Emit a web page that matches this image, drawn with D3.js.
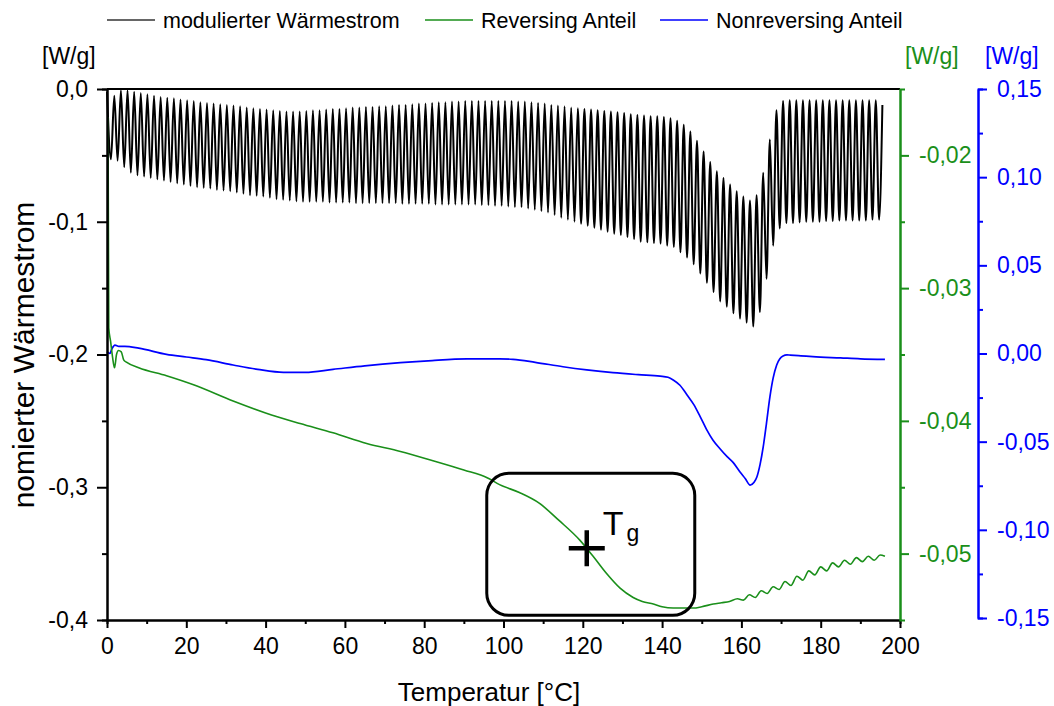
<!DOCTYPE html>
<html>
<head>
<meta charset="utf-8">
<script src="https://cdn.jsdelivr.net/npm/d3@7"></script>
<style>
body { margin: 0; background: #fff; }
svg { display: block; font-family: Arial, "Liberation Sans", sans-serif; }
</style>
</head>
<body>
<svg width="1054" height="706"></svg>
<script>
// modulated heat flow: one peak and one trough per modulation cycle (W/g, left axis)
var modFirstPeak = 1.84, modPeriod = 1.67;
var modStart = [0, -0.002];
var modPeaks = [
  -0.005, -0.001, -0.001, -0.002, -0.003, -0.004, -0.005, -0.006, -0.0065, -0.007,
  -0.008, -0.0085, -0.009, -0.010, -0.0105, -0.011, -0.0115, -0.012, -0.0125, -0.013,
  -0.014, -0.0145, -0.015, -0.0155, -0.016, -0.0165, -0.017, -0.017, -0.017, -0.0165,
  -0.016, -0.016, -0.0155, -0.015, -0.015, -0.0145, -0.014, -0.014, -0.0135, -0.0135,
  -0.013, -0.013, -0.0125, -0.012, -0.012, -0.0115, -0.011, -0.011, -0.0105, -0.010,
  -0.010, -0.0095, -0.0095, -0.009, -0.009, -0.009, -0.009, -0.009, -0.009, -0.009,
  -0.009, -0.0095, -0.0095, -0.010, -0.0105, -0.011, -0.012, -0.0125, -0.013, -0.014,
  -0.0145, -0.015, -0.0155, -0.016, -0.0165, -0.017, -0.0175, -0.018, -0.019, -0.0195,
  -0.020, -0.0205, -0.0205, -0.021, -0.022, -0.024, -0.027, -0.032, -0.039, -0.047,
  -0.055, -0.062, -0.067, -0.072, -0.077, -0.081, -0.084, -0.080, -0.063, -0.038,
  -0.016, -0.009, -0.0085, -0.0085, -0.0085, -0.0085, -0.0085, -0.0085, -0.0085, -0.0085,
  -0.0085, -0.0085, -0.0085, -0.0085, -0.0085, -0.0085, -0.012
];
var modTroughs = [
  -0.053, -0.054, -0.059, -0.063, -0.065, -0.066, -0.067, -0.068, -0.069, -0.070,
  -0.071, -0.072, -0.073, -0.074, -0.0745, -0.075, -0.076, -0.0765, -0.077, -0.078,
  -0.079, -0.080, -0.0805, -0.081, -0.082, -0.083, -0.0835, -0.084, -0.0845, -0.085,
  -0.085, -0.085, -0.085, -0.0855, -0.0855, -0.0855, -0.0855, -0.086, -0.086, -0.086,
  -0.086, -0.086, -0.086, -0.086, -0.0865, -0.0865, -0.0865, -0.0865, -0.0865, -0.087,
  -0.087, -0.087, -0.087, -0.087, -0.087, -0.087, -0.0875, -0.0875, -0.088, -0.088,
  -0.0885, -0.089, -0.089, -0.090, -0.091, -0.092, -0.093, -0.095, -0.097, -0.0985,
  -0.100, -0.1015, -0.103, -0.1045, -0.106, -0.1075, -0.109, -0.110, -0.1115, -0.113,
  -0.115, -0.1155, -0.116, -0.1165, -0.118, -0.119, -0.123, -0.127, -0.132, -0.139,
  -0.146, -0.153, -0.160, -0.164, -0.169, -0.173, -0.176, -0.179, -0.168, -0.143,
  -0.118, -0.105, -0.101, -0.101, -0.1005, -0.100, -0.100, -0.100, -0.0995, -0.0995,
  -0.099, -0.099, -0.099, -0.099, -0.099, -0.0985, -0.0985
];

// reversing part (W/g, green axis)
var revTemp = [0.25, 0.45, 0.9, 1.4, 1.9, 2.4, 2.9, 3.6, 4.2, 5, 8, 15, 22, 31.8, 40, 48.7, 57, 65.5, 74, 82.2,
  90, 96, 99, 104, 109, 114, 119.3, 122.6, 126, 129.4, 132.7, 135, 137.8, 140, 142.8, 145, 147.9, 150, 152.9,
  155, 157, 159, 160.5, 162, 163.5, 165, 166.5, 168, 169.5, 171, 172.5, 174, 175.5, 177, 178.5, 180, 181.5,
  183, 184.5, 186, 187.5, 189, 190.5, 192, 193.5, 195, 196.2];
var revValue = [-0.0171, -0.0330, -0.0340, -0.0352, -0.0360, -0.0350, -0.0347, -0.0348, -0.0354, -0.0356,
  -0.0360, -0.0366, -0.0373, -0.0385, -0.0394, -0.0402, -0.0409, -0.0417, -0.0423, -0.0430,
  -0.0437, -0.0443, -0.0448, -0.0454, -0.0462, -0.0475, -0.0490, -0.0502, -0.0515, -0.0526,
  -0.0533, -0.0536, -0.0538, -0.0540, -0.0541, -0.0541, -0.0541, -0.0540, -0.0538,
  -0.0537, -0.0536, -0.0534, -0.0535, -0.0531, -0.0533, -0.0528, -0.0530, -0.0525, -0.0527,
  -0.0521, -0.0524, -0.0517, -0.0520, -0.0513, -0.0516, -0.0510, -0.0513, -0.0507, -0.0510,
  -0.0505, -0.0508, -0.0503, -0.0506, -0.0502, -0.0505, -0.0501, -0.0502];

// nonreversing part (W/g, blue axis)
var nonTemp = [0, 0.7, 1.3, 2, 3, 4.5, 8, 15, 20, 25, 31.8, 38, 44.5, 50, 57, 65, 74, 82, 90.8, 99, 102.4,
  108, 115, 121, 127.6, 134, 139.5, 141.5, 142.8, 144.5, 146.3, 148, 149.6, 151.2, 152.8, 154.6, 156.4, 158,
  159.6, 161, 162.2, 163.2, 163.9, 164.7, 165.5, 166.3, 167.2, 168, 168.9, 169.7, 170.5, 171.5, 172.3, 175,
  178, 185, 190, 196.2];
var nonValue = [0.001, 0.000, 0.003, 0.0048, 0.0040, 0.0040, 0.0030, -0.0005, -0.002, -0.0035, -0.0065,
  -0.009, -0.0107, -0.0107, -0.009, -0.007, -0.0052, -0.004, -0.0031, -0.003, -0.0033,
  -0.005, -0.0075, -0.0093, -0.0109, -0.012, -0.0128, -0.0135, -0.015, -0.018, -0.0235, -0.029, -0.0358,
  -0.043, -0.049, -0.054, -0.0585, -0.062, -0.067, -0.071, -0.0746, -0.073, -0.070, -0.063, -0.053,
  -0.040, -0.0245, -0.014, -0.0065, -0.003, -0.0014, -0.0008, -0.0009, -0.0013, -0.0018, -0.0025, -0.003, -0.0033];

var tgTemp = 121, tgValue = -0.0496;

var xTicks = [0, 20, 40, 60, 80, 100, 120, 140, 160, 180, 200];
var xMinor = [10, 30, 50, 70, 90, 110, 130, 150, 170, 190];
var leftTicks = [0, -0.1, -0.2, -0.3, -0.4];
var leftMinor = [-0.05, -0.15, -0.25, -0.35];
var greenTicks = [-0.02, -0.03, -0.04, -0.05];
var greenMinor = [-0.025, -0.035, -0.045];
var blueTicks = [0.15, 0.1, 0.05, 0, -0.05, -0.1, -0.15];
var blueMinor = [0.125, 0.075, 0.025, -0.025, -0.075, -0.125];

var legendNames = ["modulierter Wärmestrom", "Reversing Anteil", "Nonreversing Anteil"];

var BLACK = "#000", GREEN = "#1a8f1a", BLUE = "#0000ff";

var svg = d3.select("svg");

var x = d3.scaleLinear().domain([0, 200]).range([107, 900]);
var yL = d3.scaleLinear().domain([-0.4, 0]).range([620, 89]);
var yG = d3.scaleLinear().domain([-0.055, -0.015]).range([620, 89]);
var yB = d3.scaleLinear().domain([-0.15, 0.15]).range([618, 89]);

var de = d3.formatLocale({decimal: ",", thousands: ".", grouping: [3], currency: ["", ""], minus: "-"});
var f1 = de.format(".1f"), f2 = de.format(".2f");

// build the modulated curve: start, then trough/peak for every cycle
var modData = [modStart];
for (var k = 0; k < modPeaks.length; k++) {
  var tp = modFirstPeak + k * modPeriod;
  modData.push([tp - modPeriod / 2, modTroughs[k]]);
  modData.push([tp, modPeaks[k]]);
}
var revData = revTemp.map(function (t, i) { return [t, revValue[i]]; });
var nonData = nonTemp.map(function (t, i) { return [t, nonValue[i]]; });

// curves
svg.append("path")
  .datum(modData)
  .attr("fill", "none")
  .attr("stroke", "#000")
  .attr("stroke-width", 2)
  .attr("d", d3.line().x(function (d) { return x(d[0]); }).y(function (d) { return yL(d[1]); }).curve(d3.curveMonotoneX));

svg.append("path")
  .datum(nonData)
  .attr("fill", "none")
  .attr("stroke", BLUE)
  .attr("stroke-width", 1.7)
  .attr("d", d3.line().x(function (d) { return x(d[0]); }).y(function (d) { return yB(d[1]); }).curve(d3.curveMonotoneX));

svg.append("path")
  .datum(revData)
  .attr("fill", "none")
  .attr("stroke", GREEN)
  .attr("stroke-width", 1.6)
  .attr("d", d3.line().x(function (d) { return x(d[0]); }).y(function (d) { return yG(d[1]); }).curve(d3.curveMonotoneX));

// axes
function styleAxis(g, color, size) {
  g.attr("color", color).attr("font-size", size).attr("font-family", null);
  g.selectAll("path, line").attr("stroke-width", 2);
}

svg.append("line")
  .attr("x1", x(0)).attr("x2", x(200)).attr("y1", yL(0)).attr("y2", yL(0))
  .attr("stroke", BLACK).attr("stroke-width", 2);

svg.append("g").attr("transform", "translate(0,620)")
  .call(d3.axisBottom(x).tickValues(xMinor).tickSize(4).tickFormat(""))
  .call(styleAxis, BLACK, 23);
svg.append("g").attr("transform", "translate(0,620)")
  .call(d3.axisBottom(x).tickValues(xTicks).tickSize(8).tickPadding(10).tickSizeOuter(0).tickFormat(d3.format("d")))
  .call(styleAxis, BLACK, 23);

svg.append("g").attr("transform", "translate(107,0)")
  .call(d3.axisLeft(yL).tickValues(leftMinor).tickSize(5).tickFormat(""))
  .call(styleAxis, BLACK, 23);
svg.append("g").attr("transform", "translate(107,0)")
  .call(d3.axisLeft(yL).tickValues(leftTicks).tickSize(10).tickPadding(9).tickSizeOuter(0).tickFormat(f1))
  .call(styleAxis, BLACK, 23);

svg.append("g").attr("transform", "translate(900,0)")
  .call(d3.axisRight(yG).tickValues(greenMinor).tickSize(5).tickFormat(""))
  .call(styleAxis, GREEN, 23);
svg.append("g").attr("transform", "translate(900,0)")
  .call(d3.axisRight(yG).tickValues(greenTicks).tickSize(9).tickPadding(10).tickSizeOuter(0).tickFormat(f2))
  .call(styleAxis, GREEN, 23);

svg.append("g").attr("transform", "translate(978,0)")
  .call(d3.axisRight(yB).tickValues(blueMinor).tickSize(5).tickFormat(""))
  .call(styleAxis, BLUE, 23);
svg.append("g").attr("transform", "translate(978,0)")
  .call(d3.axisRight(yB).tickValues(blueTicks).tickSize(9).tickPadding(10).tickSizeOuter(0).tickFormat(f2))
  .call(styleAxis, BLUE, 23);

// units and titles
svg.append("text").attr("x", 42).attr("y", 64).attr("font-size", 23).attr("fill", BLACK).text("[W/g]");
svg.append("text").attr("x", 905).attr("y", 64).attr("font-size", 23).attr("fill", GREEN).text("[W/g]");
svg.append("text").attr("x", 985).attr("y", 64).attr("font-size", 23).attr("fill", BLUE).text("[W/g]");

svg.append("text")
  .attr("transform", "translate(34,355) rotate(-90)")
  .attr("text-anchor", "middle")
  .attr("font-size", 30)
  .text("nomierter Wärmestrom");

svg.append("text")
  .attr("x", 489).attr("y", 701)
  .attr("text-anchor", "middle")
  .attr("font-size", 26)
  .text("Temperatur [°C]");

// legend
var legendX = [107, 425, 660];
var legendColors = [BLACK, GREEN, BLUE];
var legend = svg.selectAll(".legend")
  .data(legendNames)
  .enter().append("g")
  .attr("class", "legend")
  .attr("transform", function (d, i) { return "translate(" + legendX[i] + ",20)"; });
legend.append("line")
  .attr("x1", 0).attr("x2", 48).attr("y1", 0).attr("y2", 0)
  .attr("stroke", function (d, i) { return legendColors[i] == BLACK ? "#333" : legendColors[i]; })
  .attr("stroke-width", 1.5);
legend.append("text")
  .attr("x", 56).attr("y", 8)
  .attr("font-size", 21.5)
  .text(function (d) { return d; });

// glass transition marker
var tx = x(tgTemp), ty = yG(tgValue);
svg.append("rect")
  .attr("x", tx - 100).attr("y", ty - 75)
  .attr("width", 208).attr("height", 142)
  .attr("rx", 22).attr("ry", 22)
  .attr("fill", "none").attr("stroke", BLACK).attr("stroke-width", 3);
svg.append("path")
  .attr("d", "M" + (tx - 18) + "," + ty + "H" + (tx + 18) + "M" + tx + "," + (ty - 18) + "V" + (ty + 18))
  .attr("stroke", BLACK).attr("stroke-width", 4.5);
var tg = svg.append("text").attr("x", tx + 16).attr("y", ty - 13).attr("font-size", 34);
tg.append("tspan").text("T");
tg.append("tspan").attr("font-size", 23).attr("dy", 6).attr("dx", 3).text("g");
</script>
</body>
</html>
